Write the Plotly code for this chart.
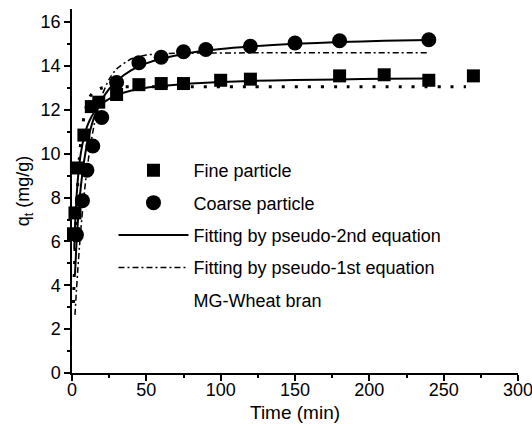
import plotly.graph_objects as go

# ---- data ----
fine_t = [1, 2, 3, 8, 13, 18, 30, 45, 60, 75, 100, 120, 180, 210, 240, 270]
fine_q = [6.35, 7.3, 9.35, 10.85, 12.15, 12.35, 12.7, 13.15, 13.2, 13.2, 13.35, 13.4, 13.55, 13.6, 13.35, 13.55]

coarse_t = [3, 7, 10, 14, 20, 30, 45, 60, 75, 90, 120, 150, 180, 240]
coarse_q = [6.3, 7.86, 9.25, 10.35, 11.65, 13.25, 14.15, 14.4, 14.65, 14.75, 14.9, 15.05, 15.15, 15.2]

fine_p2_t = [1.5, 2, 3, 4, 5, 6, 8, 10, 12, 15, 20, 25, 30, 40, 50, 60, 80, 100, 120, 150, 180, 210, 240]
fine_p2_q = [5.66, 6.62, 7.98, 8.90, 9.55, 10.05, 10.74, 11.21, 11.54, 11.89, 12.27, 12.50, 12.67, 12.88,
             13.01, 13.09, 13.20, 13.27, 13.32, 13.36, 13.39, 13.42, 13.43]

coarse_p2_t = [2, 3, 4, 5, 6, 8, 10, 12, 15, 20, 25, 30, 40, 50, 60, 80, 100, 120, 150, 180, 210, 240]
coarse_p2_q = [4.49, 5.88, 6.96, 7.83, 8.53, 9.61, 10.40, 11.00, 11.68, 12.45, 12.96, 13.32, 13.81, 14.12,
               14.33, 14.61, 14.78, 14.89, 15.01, 15.09, 15.15, 15.19]

coarse_p1_t = [2, 3, 4, 5, 6, 8, 10, 12, 15, 20, 25, 30, 40, 50, 60, 80, 120, 180, 240]
coarse_p1_q = [2.65, 3.78, 4.81, 5.74, 6.59, 8.04, 9.23, 10.20, 11.34, 12.62, 13.40, 13.87, 14.33, 14.50,
               14.56, 14.59, 14.6, 14.6, 14.6]

fine_p1_t = [1, 2, 3, 4, 5, 6, 8, 10, 12, 15, 20, 25, 30, 60, 120, 180, 265]
fine_p1_q = [3.19, 5.60, 7.42, 8.79, 9.83, 10.62, 11.66, 12.26, 12.60, 12.85, 13.00, 13.04, 13.05, 13.05,
             13.05, 13.05, 13.05]

x_ticks = [0, 50, 100, 150, 200, 250, 300]
y_ticks = [0, 2, 4, 6, 8, 10, 12, 14, 16]

FONT = "Arial, 'Liberation Sans', sans-serif"

fig = go.Figure()

# fitted curves
fig.add_trace(go.Scatter(x=fine_p1_t, y=fine_p1_q, mode="lines", showlegend=False,
                         line=dict(color="black", width=3, dash="3px,10px", shape="spline", smoothing=0.6)))
fig.add_trace(go.Scatter(x=coarse_p1_t, y=coarse_p1_q, mode="lines", showlegend=False,
                         line=dict(color="black", width=1.5, dash="6px,3px,2px,3px", shape="spline", smoothing=0.6)))
fig.add_trace(go.Scatter(x=fine_p2_t, y=fine_p2_q, mode="lines", showlegend=False,
                         line=dict(color="black", width=2, shape="spline", smoothing=0.6)))
fig.add_trace(go.Scatter(x=coarse_p2_t, y=coarse_p2_q, mode="lines", showlegend=False,
                         line=dict(color="black", width=2, shape="spline", smoothing=0.6)))

# data points
fig.add_trace(go.Scatter(x=fine_t, y=fine_q, mode="markers", name="Fine particle", cliponaxis=False,
                         legendgroup="a", legendrank=1,
                         marker=dict(symbol="square", size=13, color="black")))
fig.add_trace(go.Scatter(x=coarse_t, y=coarse_q, mode="markers", name="Coarse particle", cliponaxis=False,
                         legendgroup="b", legendrank=2,
                         marker=dict(symbol="circle", size=15, color="black")))

# legend-only entries
fig.add_trace(go.Scatter(x=[None], y=[None], mode="lines", name="Fitting by pseudo-2nd equation",
                         legendgroup="c", legendrank=3, line=dict(color="black", width=2)))
fig.add_trace(go.Scatter(x=[None], y=[None], mode="lines", name="Fitting by pseudo-1st equation",
                         legendgroup="d", legendrank=4,
                         line=dict(color="black", width=1.5, dash="6px,3px,2px,3px")))
fig.add_trace(go.Scatter(x=[None], y=[None], mode="lines", name="MG-Wheat bran",
                         legendgroup="e", legendrank=5, line=dict(color="rgba(0,0,0,0)", width=0)))

axis_common = dict(showline=True, linecolor="black", linewidth=1.5, ticks="outside", ticklen=6,
                   tickwidth=1.5, tickcolor="black", showgrid=False, zeroline=False,
                   ticklabeloverflow="allow", automargin=False,
                   tickfont=dict(family=FONT, size=18, color="black"))

fig.update_layout(
    width=532, height=424,
    margin=dict(l=72, r=14, t=9, b=51),
    paper_bgcolor="white", plot_bgcolor="white",
    font=dict(family=FONT, color="black"),
    xaxis=dict(range=[0, 300.001], tickvals=x_ticks, ticklabelstandoff=-6,
               minor=dict(dtick=25, ticks="outside", ticklen=3, tickwidth=1.5, tickcolor="black"),
               **axis_common),
    yaxis=dict(range=[0, 16.6], tickvals=y_ticks,
               minor=dict(dtick=1, ticks="outside", ticklen=3, tickwidth=1.5, tickcolor="black"),
               title=dict(text="q<sub>t</sub> (mg/g)", font=dict(family=FONT, size=18), standoff=6),
               **axis_common),
    legend=dict(x=0.093, y=0.607, xanchor="left", yanchor="top", bgcolor="rgba(0,0,0,0)",
                font=dict(family=FONT, size=18, color="black"), traceorder="grouped",
                tracegroupgap=6, itemwidth=70),
    annotations=[dict(text="Time (min)", x=0.5, y=0, xref="paper", yref="paper",
                      xanchor="center", yanchor="middle", yshift=-39, showarrow=False,
                      font=dict(family=FONT, size=19, color="black"))],
)

fig.write_html("out.html")
